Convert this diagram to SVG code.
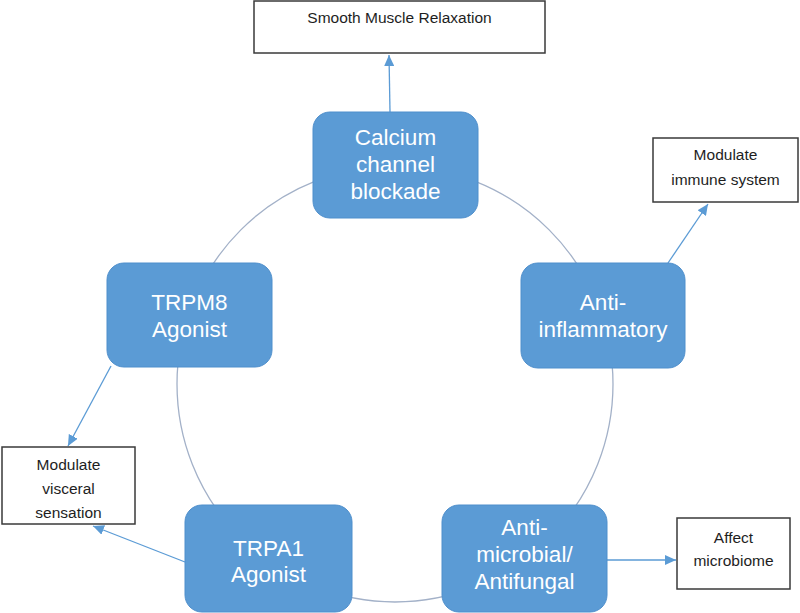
<svg xmlns="http://www.w3.org/2000/svg" width="800" height="613" viewBox="0 0 800 613">
<style>
.node rect.main{fill:#5b9bd5;stroke:#4f8fcc;stroke-width:1}
.node text.big{font-family:"Liberation Sans",Arial,sans-serif;font-size:22.5px;fill:#ffffff;text-anchor:middle}
.box rect{fill:#ffffff;stroke:#3a3a3a;stroke-width:1.5}
.box text{font-family:"Liberation Sans",Arial,sans-serif;font-size:15.5px;fill:#1e1e1e;text-anchor:middle}
.conn line{stroke:#5b9bd5;stroke-width:1.3;fill:none}
</style>
<defs>
<marker id="ah" markerUnits="userSpaceOnUse" markerWidth="12" markerHeight="10" viewBox="0 0 12 10" refX="11" refY="5" orient="auto">
<path d="M0,0 L11,5 L0,10 Z" fill="#5b9bd5"/>
</marker>
</defs>
<rect width="800" height="613" fill="#ffffff"/>
<g id="ring">
<circle cx="395" cy="384" r="218" fill="none" stroke="#a3b1c8" stroke-width="1.3"/>
</g>
<g id="connectors" class="conn">
<line x1="390" y1="112" x2="389" y2="55" marker-end="url(#ah)"/>
<line x1="668" y1="263" x2="708" y2="204" marker-end="url(#ah)"/>
<line x1="111" y1="366" x2="68" y2="446" marker-end="url(#ah)"/>
<line x1="185" y1="562" x2="93" y2="526" marker-end="url(#ah)"/>
<line x1="607" y1="560" x2="676" y2="560" marker-end="url(#ah)"/>
</g>
<g id="calcium" class="node">
<rect class="main" x="313" y="112" width="165" height="106" rx="17"/>
<text class="big" x="395.5" y="145">Calcium</text>
<text class="big" x="395.5" y="172">channel</text>
<text class="big" x="395.5" y="199">blockade</text>
</g>
<g id="trpm8" class="node">
<rect class="main" x="107" y="263" width="165" height="104" rx="17"/>
<text class="big" x="189.5" y="310">TRPM8</text>
<text class="big" x="189.5" y="337">Agonist</text>
</g>
<g id="antiinflammatory" class="node">
<rect class="main" x="521" y="263" width="164" height="105" rx="17"/>
<text class="big" x="603" y="310">Anti-</text>
<text class="big" x="603" y="337">inflammatory</text>
</g>
<g id="trpa1" class="node">
<rect class="main" x="185" y="505" width="167" height="107" rx="17"/>
<text class="big" x="268.5" y="556">TRPA1</text>
<text class="big" x="268.5" y="582">Agonist</text>
</g>
<g id="antimicrobial" class="node">
<rect class="main" x="442" y="505" width="165" height="107" rx="17"/>
<text class="big" x="524.5" y="535">Anti-</text>
<text class="big" x="524.5" y="562">microbial/</text>
<text class="big" x="524.5" y="589">Antifungal</text>
</g>
<g id="smooth" class="box">
<rect x="254" y="1" width="291" height="52"/>
<text x="399.5" y="23">Smooth Muscle Relaxation</text>
</g>
<g id="immune" class="box">
<rect x="653" y="138" width="145" height="64"/>
<text x="725.5" y="160">Modulate</text>
<text x="725.5" y="185">immune system</text>
</g>
<g id="visceral" class="box">
<rect x="2" y="447" width="133" height="77"/>
<text x="68.5" y="470">Modulate</text>
<text x="68.5" y="494">visceral</text>
<text x="68.5" y="518">sensation</text>
</g>
<g id="microbiome" class="box">
<rect x="677" y="518" width="113" height="71"/>
<text x="733.5" y="543">Affect</text>
<text x="733.5" y="566">microbiome</text>
</g>
</svg>
